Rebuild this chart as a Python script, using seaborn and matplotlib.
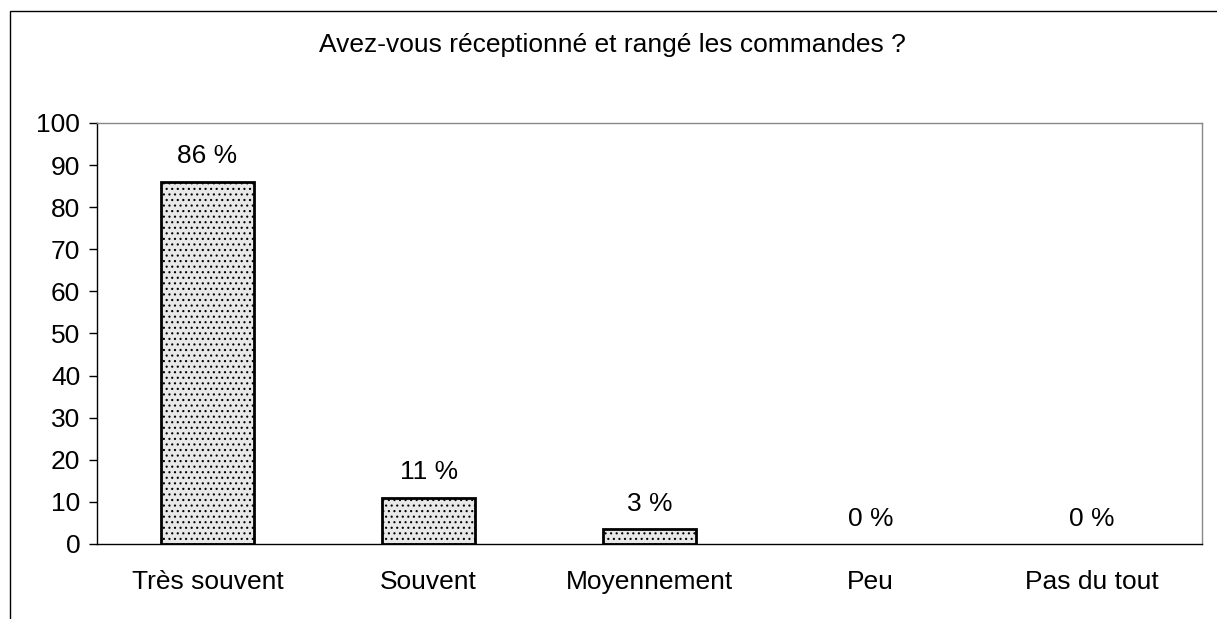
import pandas as pd
import matplotlib
matplotlib.use("Agg")
import matplotlib.pyplot as plt
import seaborn as sns
from matplotlib.patches import Rectangle

categories = ["Très souvent", "Souvent", "Moyennement", "Peu", "Pas du tout"]
values = [86, 11, 3.5, 0, 0]
labels = ["86 %", "11 %", "3 %", "0 %", "0 %"]

sns.set_style("white")
plt.rcParams['font.family'] = ['Liberation Sans', 'DejaVu Sans']
plt.rcParams['text.color'] = "black"
plt.rcParams['xtick.color'] = "black"
plt.rcParams['ytick.color'] = "black"
plt.rcParams['hatch.color'] = "#8f8f8f"
plt.rcParams['hatch.linewidth'] = 0.8

data = pd.DataFrame({"cat": categories, "val": values})

fig = plt.figure(figsize=(12.17, 6.19), dpi=100)
ax = fig.add_axes([0.0797, 0.1212, 0.9083, 0.6801])

sns.barplot(data=data, x="cat", y="val", color="#e2e2e2", width=0.42,
            edgecolor="black", linewidth=2, saturation=1, ax=ax)
for p in ax.patches:
    p.set_hatch("...")
    p.set_facecolor("#e8e8e8")
    if p.get_height() == 0:
        p.set_linewidth(0)
        p.set_hatch(None)

for i, (v, t) in enumerate(zip(values, labels)):
    ax.text(i, v + 3.2, t, ha="center", va="bottom", fontsize=19, color="black")

ax.set_xlim(-0.5, 4.5)
ax.set_ylim(0, 100)
ax.set_yticks(range(0, 101, 10))
ax.set_xticks([x - 0.5 for x in range(6)], minor=True)
ax.tick_params(axis="x", which="major", length=0, pad=19, labelsize=19, labelcolor="black")
ax.tick_params(axis="x", which="minor", length=6, width=1, direction="out", color="black")
ax.tick_params(axis="y", length=6, width=1, direction="out", color="black",
               labelsize=19, left=True, pad=6, labelcolor="black")
ax.set_xlabel("")
ax.set_ylabel("")

for s in ["left", "bottom"]:
    ax.spines[s].set_color("black")
    ax.spines[s].set_linewidth(1)
for s in ["top", "right"]:
    ax.spines[s].set_color("#888888")
    ax.spines[s].set_linestyle((0, (4, 1)))
    ax.spines[s].set_linewidth(1)

fig.text(0.503, 0.927, "Avez-vous réceptionné et rangé les commandes ?",
         ha="center", va="center", fontsize=19, color="black")

# outer chart frame
fig.patches.append(Rectangle((0.0082, -0.05), 1.2, 1.032, transform=fig.transFigure,
                             fill=False, edgecolor="black", linewidth=1))

fig.savefig("out.png", dpi=100)
